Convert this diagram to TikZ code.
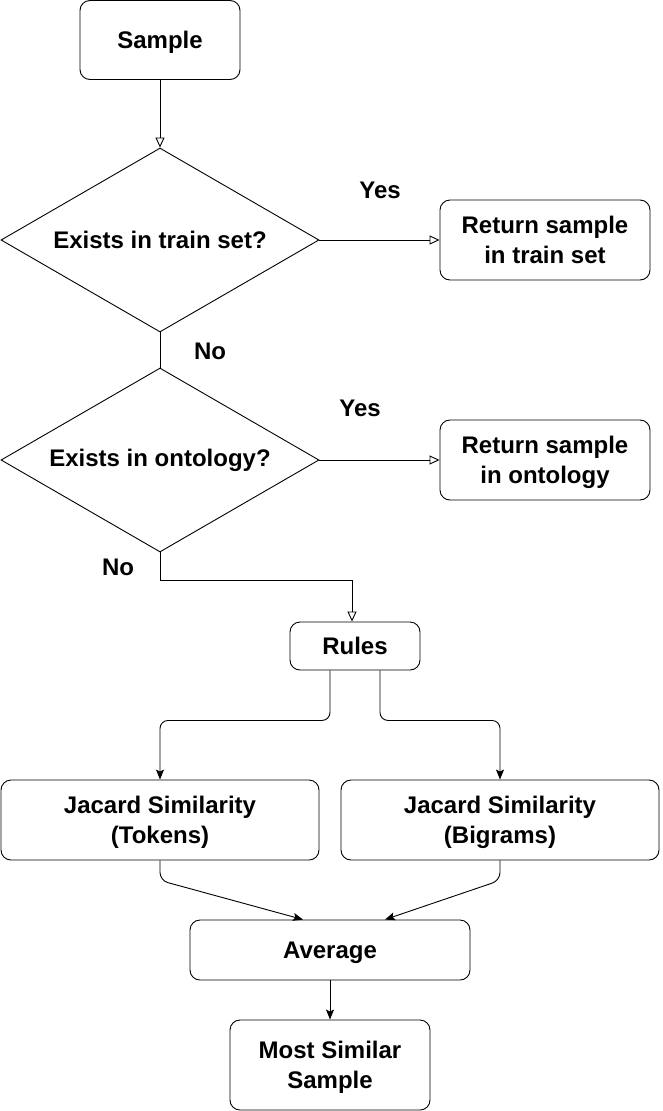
\documentclass[tikz,border=0pt]{standalone}
\usepackage{fontspec}
\setmainfont{Liberation Sans}
\usetikzlibrary{shapes.geometric,arrows.meta}
\begin{document}
\begin{tikzpicture}[x=1pt,y=-1pt,line width=0.9pt,
  box/.style={draw,rounded corners=10pt,align=center,inner sep=0pt,text depth=0pt,font=\bfseries\fontsize{24}{30}\selectfont},
  dec/.style={draw,diamond,aspect=1.74,minimum width=318pt,minimum height=184pt,inner sep=0pt,font=\bfseries\fontsize{24}{30}\selectfont},
  lbl/.style={font=\bfseries\fontsize{24}{30}\selectfont},
  openarr/.style={-{Triangle[open,length=10pt,width=9pt]}},
  fillarr/.style={-{Stealth[length=10pt,width=8pt,inset=2pt]}}]
\useasboundingbox (0,0) rectangle (662,1111);
% boxes
\node[box,minimum width=160pt,minimum height=79pt] (sample) at (160,40) {Sample};
\node[dec] (d1) at (160,240) {Exists in train set?};
\node[box,minimum width=210pt,minimum height=80pt] (ret1) at (545,240) {Return sample\\in train set};
\node[dec] (d2) at (160,460) {Exists in ontology?};
\node[box,minimum width=210pt,minimum height=80pt] (ret2) at (545,460) {Return sample\\in ontology};
\node[box,minimum width=130pt,minimum height=48pt] (rules) at (355,646) {Rules};
\node[box,minimum width=318pt,minimum height=80pt] (jac1) at (160,820) {Jacard Similarity\\(Tokens)};
\node[box,minimum width=318pt,minimum height=80pt] (jac2) at (500,820) {Jacard Similarity\\(Bigrams)};
\node[box,minimum width=280pt,minimum height=60pt] (avg) at (330,950) {Average};
\node[box,minimum width=200pt,minimum height=90pt] (most) at (330,1065) {Most Similar\\Sample};
% labels
\node[lbl] (yes1) at (380,190) {Yes};
\node[lbl] (no1) at (210,351) {No};
\node[lbl] (yes2) at (360,408) {Yes};
\node[lbl] (no2) at (118,567) {No};
% connectors
\draw[openarr] (sample.south) -- (d1.north);
\draw[openarr] (d1.east) -- (ret1.west);
\draw (d1.south) -- (d2.north);
\draw[openarr] (d2.east) -- (ret2.west);
\draw[openarr] (d2.south) -- ++(0,28) -| ([xshift=-3pt]rules.north);
\draw[fillarr,rounded corners=8pt] ([xshift=-25pt]rules.south) -- ++(0,50) -| (jac1.north);
\draw[fillarr,rounded corners=8pt] ([xshift=25pt]rules.south) -- ++(0,50) -| (jac2.north);
\draw[fillarr,rounded corners=8pt] (jac1.south) -- ++(0,20) -- ([xshift=-27pt]avg.north);
\draw[fillarr,rounded corners=8pt] (jac2.south) -- ++(0,20) -- ([xshift=55pt]avg.north);
\draw[fillarr] (avg.south) -- (most.north);
\end{tikzpicture}
\end{document}
